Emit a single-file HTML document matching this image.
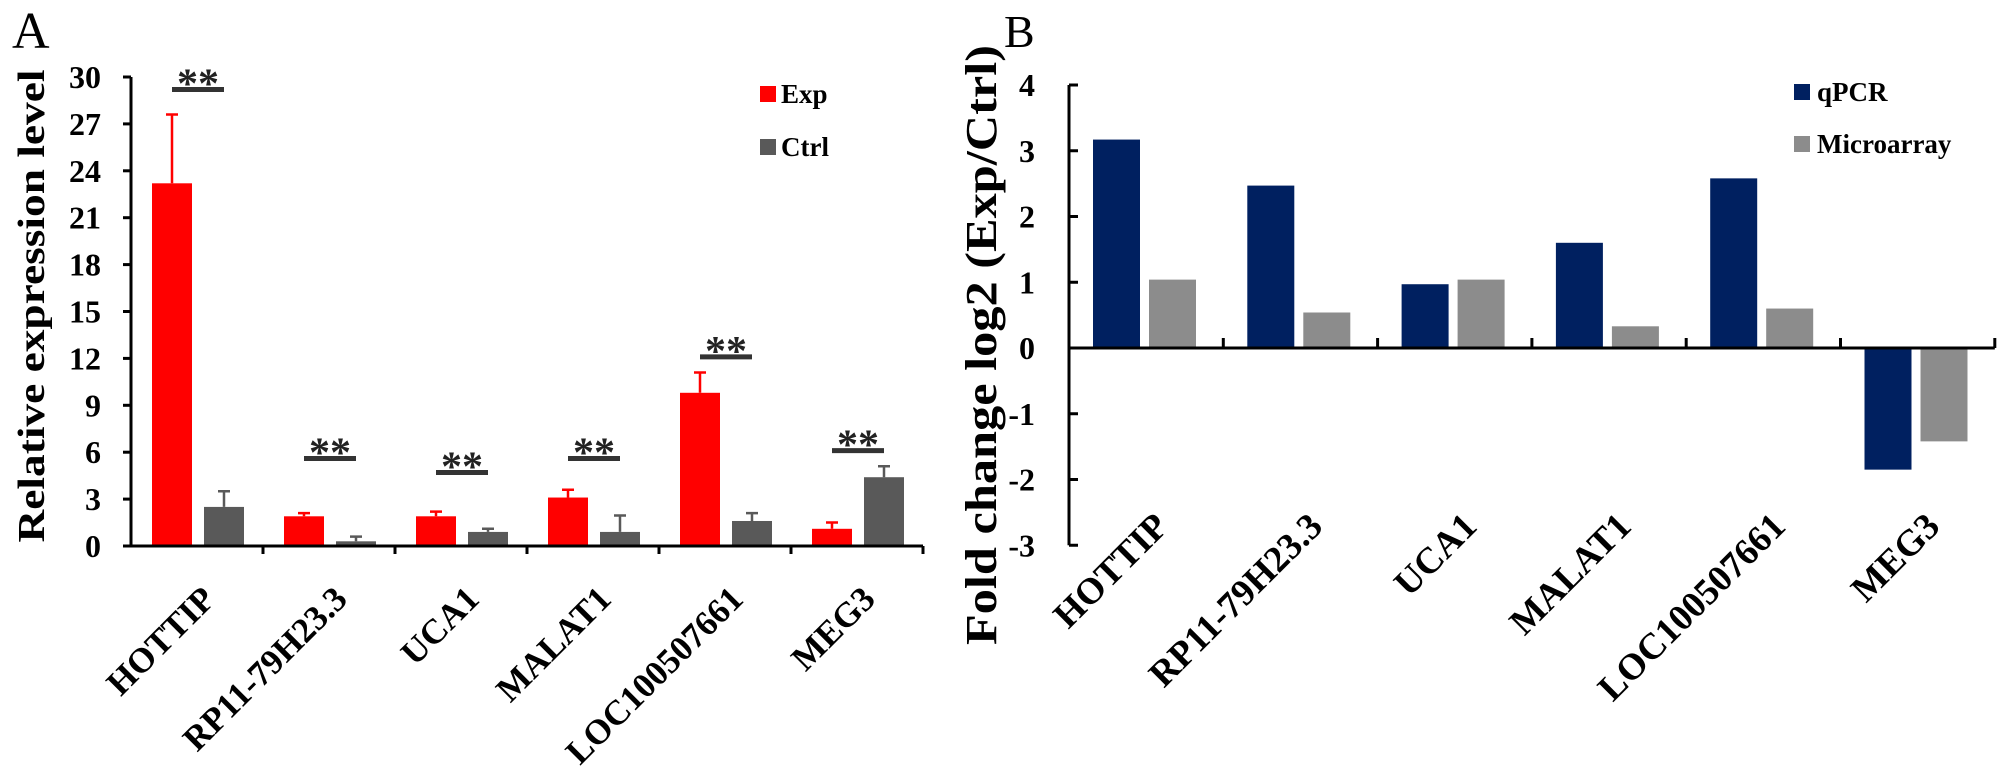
<!DOCTYPE html>
<html><head><meta charset="utf-8"><style>
html,body{margin:0;padding:0;background:#fff;}
svg{display:block;font-family:"Liberation Serif",serif;}
</style></head><body>
<svg id="chart" width="2010" height="775" xmlns="http://www.w3.org/2000/svg">
<text x="12" y="48" font-size="52">A</text>
<text x="1004" y="47" font-size="46">B</text>
<g id="pa"></g>
<g id="pb"></g>
</svg>
<script>
const categories = ["HOTTIP","RP11-79H23.3","UCA1","MALAT1","LOC100507661","MEG3"];
const expValues = [23.2, 1.9, 1.9, 3.1, 9.8, 1.1];
const expErrTop = [27.6, 2.1, 2.2, 3.6, 11.1, 1.5];
const ctrlValues = [2.5, 0.3, 0.9, 0.9, 1.6, 4.4];
const ctrlErrTop = [3.5, 0.6, 1.1, 1.95, 2.1, 5.1];
const sigLevels = [29.2, 5.6, 4.7, 5.6, 12.1, 6.1];
const aTicks = [0,3,6,9,12,15,18,21,24,27,30];
const qpcrValues = [3.17, 2.47, 0.97, 1.6, 2.58, -1.85];
const microValues = [1.04, 0.54, 1.04, 0.33, 0.6, -1.42];
const bTicks = [-3,-2,-1,0,1,2,3,4];

const NS="http://www.w3.org/2000/svg";
function mk(parent,tag,attrs,text){const e=document.createElementNS(NS,tag);for(const k in attrs)e.setAttribute(k,attrs[k]);if(text!==undefined)e.textContent=text;parent.appendChild(e);return e;}

// Panel A
const pa=document.getElementById('pa');
const aX0=131,aCW=132,aY0=546,aY30=77;
const ya=v=>aY0-(v/30)*(aY0-aY30);
const xa=i=>aX0+i*aCW;
aTicks.forEach(t=>{
  let l=mk(pa,'line',{x1:aX0-8,x2:aX0,y1:ya(t),y2:ya(t),stroke:'#000','stroke-width':3});
  
  
  let tx=mk(pa,'text',{x:aX0-30,y:ya(t)+11,'font-size':32,'font-weight':'bold','text-anchor':'end'},t);
  
  
});
categories.forEach((c,i)=>{
  const x0=xa(i);
  const ex=x0+21, cx=x0+73, w=40;
  let b=mk(pa,'rect',{x:ex,y:ya(expValues[i]),width:w,height:ya(0)-ya(expValues[i]),fill:'#ff0000'});
  
  
  let e1=mk(pa,'path',{d:`M${ex+w/2},${ya(expValues[i])}V${ya(expErrTop[i])}M${ex+w/2-6},${ya(expErrTop[i])}H${ex+w/2+6}`,stroke:'#ff0000','stroke-width':2.5,fill:'none'});
  
  
  let b2=mk(pa,'rect',{x:cx,y:ya(ctrlValues[i]),width:w,height:ya(0)-ya(ctrlValues[i]),fill:'#595959'});
  
  
  let e2=mk(pa,'path',{d:`M${cx+w/2},${ya(ctrlValues[i])}V${ya(ctrlErrTop[i])}M${cx+w/2-6},${ya(ctrlErrTop[i])}H${cx+w/2+6}`,stroke:'#595959','stroke-width':2.5,fill:'none'});
  
  
  const sy=ya(sigLevels[i]), mid=(ex+cx+w)/2;
  let sl=mk(pa,'line',{x1:mid-26,x2:mid+26,y1:sy,y2:sy,stroke:'#333','stroke-width':5});
  
  
  let st=mk(pa,'text',{x:mid,y:sy+8,'font-size':42,'font-weight':'bold','text-anchor':'middle',fill:'#222'},'**');
  
  
  let tk=mk(pa,'line',{x1:x0+aCW,x2:x0+aCW,y1:aY0,y2:aY0+8,stroke:'#000','stroke-width':3});
  
  
  const ax=x0+aCW/2+20, ay=aY0+55;
  let lb=mk(pa,'text',{x:ax,y:ay,'font-size':35,'font-weight':'bold','text-anchor':'end',transform:`rotate(-45 ${ax} ${ay})`},c);
  
  
});
let axA=mk(pa,'path',{d:`M${aX0},${aY30}V${aY0}H${xa(6)}`,stroke:'#000','stroke-width':3,fill:'none'});


let tA=mk(pa,'text',{x:0,y:0,'font-size':38,'font-weight':'bold','text-anchor':'middle',transform:'translate(44 306) rotate(-90)',textLength:473,lengthAdjust:'spacingAndGlyphs'},'Relative expression level');


let lg1=mk(pa,'rect',{x:760,y:86,width:16,height:16,fill:'#ff0000'});


let lt1=mk(pa,'text',{x:781,y:103,'font-size':27,'font-weight':'bold'},'Exp');


let lg2=mk(pa,'rect',{x:760,y:139,width:16,height:16,fill:'#595959'});


let lt2=mk(pa,'text',{x:781,y:156,'font-size':27,'font-weight':'bold'},'Ctrl');



// Panel B
const pb=document.getElementById('pb');
const bX0=1069,bCW=154.3,bZero=348,bUnit=65.75;
const yb=v=>bZero-v*bUnit;
const xb=i=>bX0+i*bCW;
bTicks.forEach(t=>{
  let l=mk(pb,'line',{x1:bX0,x2:bX0+9,y1:yb(t),y2:yb(t),stroke:'#000','stroke-width':3});
  
  
  let tx=mk(pb,'text',{x:bX0-34,y:yb(t)+11,'font-size':32,'font-weight':'bold','text-anchor':'end'},t);
  
  
});
categories.forEach((c,i)=>{
  const x0=xb(i), w=47;
  const qx=x0+24, mx=x0+80;
  const q=qpcrValues[i], m=microValues[i];
  let b=mk(pb,'rect',{x:qx,y:Math.min(yb(q),yb(0)),width:w,height:Math.abs(yb(q)-yb(0)),fill:'#002060'});
  
  
  let b2=mk(pb,'rect',{x:mx,y:Math.min(yb(m),yb(0)),width:w,height:Math.abs(yb(m)-yb(0)),fill:'#8c8c8c'});
  
  
  let tk=mk(pb,'line',{x1:x0+bCW,x2:x0+bCW,y1:bZero-10,y2:bZero,stroke:'#000','stroke-width':3});
  
  
  const ax=x0+bCW/2+24, ay=yb(-3)-17;
  let lb=mk(pb,'text',{x:ax,y:ay,'font-size':37,'font-weight':'bold','text-anchor':'end',transform:`rotate(-45 ${ax} ${ay})`},c);
  
  
});
let axB=mk(pb,'path',{d:`M${bX0},${yb(4)}V${yb(-3)}M${bX0},${bZero}H${xb(6)}`,stroke:'#000','stroke-width':3,fill:'none'});


let tB=mk(pb,'text',{x:0,y:0,'font-size':44,'font-weight':'bold','text-anchor':'middle',transform:'translate(996 345) rotate(-90)',textLength:600,lengthAdjust:'spacingAndGlyphs'},'Fold change log2 (Exp/Ctrl)');


let lg3=mk(pb,'rect',{x:1794,y:84,width:16,height:16,fill:'#002060'});


let lt3=mk(pb,'text',{x:1817,y:101,'font-size':27,'font-weight':'bold'},'qPCR');


let lg4=mk(pb,'rect',{x:1794,y:136,width:16,height:16,fill:'#8c8c8c'});


let lt4=mk(pb,'text',{x:1817,y:153,'font-size':27,'font-weight':'bold'},'Microarray');


</script>
</body></html>
